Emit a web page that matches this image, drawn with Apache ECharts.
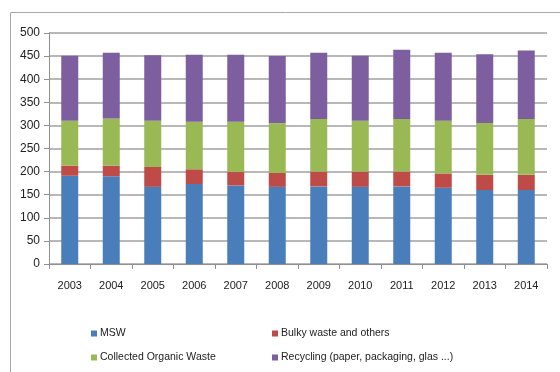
<!DOCTYPE html>
<html><head><meta charset="utf-8">
<script src="https://cdn.jsdelivr.net/npm/echarts@6/dist/echarts.min.js"></script>
<style>html,body{margin:0;padding:0;background:#fff}#c{width:560px;height:372px}</style>
</head><body><div id="c"></div>
<script>
const categories = ['2003','2004','2005','2006','2007','2008','2009','2010','2011','2012','2013','2014'];
const msw        = [191,190,167,173,170,167,168,167,168,165,160,160];
const bulky      = [22,23,43,32,29,30,32,33,32,31,33,33];
const organic    = [97,102,100,103,109,108,114,110,114,114,112,121];
const recycling  = [141,142,142,145,145,145,143,141,150,147,149,148];
const seriesNames = ['MSW','Bulky waste and others','Collected Organic Waste','Recycling (paper, packaging, glas ...)'];
const yTicks = [0,50,100,150,200,250,300,350,400,450,500];
const colors = ['#4a7ebb','#be4b48','#98b954','#7d5fa0'];

const font = 'Liberation Sans';
const chart = echarts.init(document.getElementById('c'));
const mk = (name, data, i) => ({
  name, type:'bar', stack:'t', data, barWidth:17,
  itemStyle:{color:colors[i]}
});
const legendPos = [[86,323],[267,323],[86,347],[267,347]];
chart.setOption({
  animation:false,
  graphic:[{type:'polyline',shape:{points:[[10.5,372],[10.5,12.5],[560,12.5]]},style:{stroke:'#a8a8a8',lineWidth:1,fill:null}}],
  grid:{left:49,right:13,top:33,bottom:108},
  xAxis:{type:'category',data:categories,
    axisLine:{lineStyle:{color:'#909090'}},
    axisTick:{show:true,length:5,lineStyle:{color:'#909090'}},
    axisLabel:{color:'#222',fontFamily:font,fontSize:11,margin:16}},
  yAxis:{type:'value',min:yTicks[0],max:yTicks[yTicks.length-1],interval:50,
    axisLine:{show:true,lineStyle:{color:'#909090'}},
    axisTick:{show:true,length:5,lineStyle:{color:'#909090'}},
    splitLine:{lineStyle:{color:'#a0a0a0',width:1.5}},
    axisLabel:{color:'#222',fontFamily:font,fontSize:12,margin:9}},
  legend: seriesNames.map((n,i)=>({
    data:[n], left:legendPos[i][0], top:legendPos[i][1],
    itemWidth:6,itemHeight:6,itemGap:4,icon:'rect',
    textStyle:{fontFamily:font,fontSize:10.5,color:'#222',padding:[0,0,0,-2]}
  })),
  series:[mk(seriesNames[0],msw,0),mk(seriesNames[1],bulky,1),mk(seriesNames[2],organic,2),mk(seriesNames[3],recycling,3)]
});
</script></body></html>
